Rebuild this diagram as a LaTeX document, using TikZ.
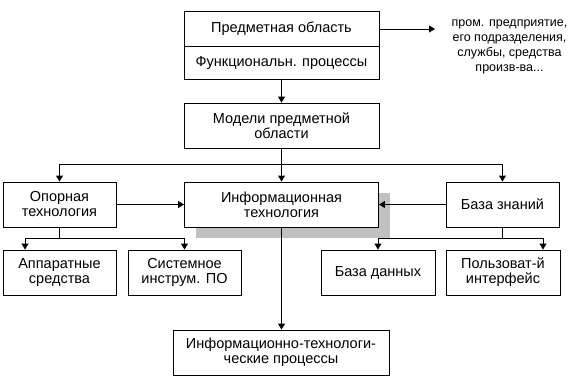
\documentclass[tikz,border=0pt]{standalone}
\usepackage{fontspec}
\setmainfont{Liberation Sans}
\usetikzlibrary{arrows.meta,backgrounds}
\definecolor{shadowgray}{RGB}{192,192,192}
\begin{document}
\begin{tikzpicture}[x=1pt,y=-1pt,
  box/.style={draw,line width=0.9pt,fill=white,inner sep=0pt,align=center,
    font=\fontsize{14.5}{15}\selectfont},
  conn/.style={line width=0.9pt},
  arr/.style={conn,-{Triangle[length=6pt,width=7pt]}},
  notefont/.style={font=\fontsize{12.5}{15}\selectfont,align=center,inner sep=0pt}]
\useasboundingbox (0,0) rectangle (580,389);
% nodes
\node[box,minimum width=195pt,minimum height=35pt] (pa) at (281.5,28.5) {Предметная область};
\node[box,minimum width=195pt,minimum height=33pt] (fp) at (281.5,62.5) {Функциональн. процессы};
\node[notefont] (note) at (509.5,47) {пром. предприятие,\\его подразделения,\\службы, средства\\произв-ва...};
\node[box,minimum width=195pt,minimum height=45pt] (mod) at (281.5,125.5) {Модели предметной\\области};
\node[box,minimum width=113pt,minimum height=45pt] (op) at (59.5,204.5) {Опорная\\технология};
\node[box,minimum width=194pt,minimum height=45pt] (it) at (281.5,204.5) {Информационная\\технология};
\node[box,minimum width=113pt,minimum height=45pt] (bz) at (502.5,204.5) {База знаний};
\node[box,minimum width=113pt,minimum height=45pt] (ap) at (59.5,272.5) {Аппаратные\\средства};
\node[box,minimum width=113pt,minimum height=45pt] (sys) at (184.5,272.5) {Системное\\инструм. ПО};
\node[box,minimum width=114pt,minimum height=45pt] (bd) at (378,272.5) {База данных};
\node[box,minimum width=114pt,minimum height=45pt] (ui) at (503,272.5) {Пользоват-й\\интерфейс};
\node[box,minimum width=216pt,minimum height=45pt] (itp) at (281,352.5) {Информационно-технологи-\\ческие процессы};
% shadow
\begin{scope}[on background layer]
\fill[shadowgray] ([shift={(12pt,-11pt)}]it.north west) rectangle ([shift={(11pt,-11pt)}]it.south east);
\end{scope}
% connectors
\coordinate (noteIn) at (435,29);
\draw[arr] (pa.east |- noteIn) -- (noteIn);
\draw[arr] (fp.south) -- (mod.north);
\coordinate (j1) at (281.5,164);
\draw[arr] (mod.south) -- (it.north);
\draw[arr] (j1) -| (op.north);
\draw[arr] (j1) -| (bz.north);
\draw[arr] (op.east) -- (it.west);
\draw[arr] (bz.west) -- (it.east);
% below Опорная
\coordinate (j2) at (59.5,238);
\draw[conn] (op.south) -- (j2);
\draw[arr] (j2) -| ([xshift=-34.5pt]ap.north);
\draw[arr] (j2) -| (sys.north);
% below База знаний
\coordinate (j3) at (502.5,238);
\draw[conn] (bz.south) -- (j3);
\draw[arr] (j3) -| (bd.north);
\draw[arr] (j3) -| ([xshift=40pt]ui.north);
% down to bottom
\draw[arr] (it.south) -- (itp.north -| it.south);
\end{tikzpicture}
\end{document}
